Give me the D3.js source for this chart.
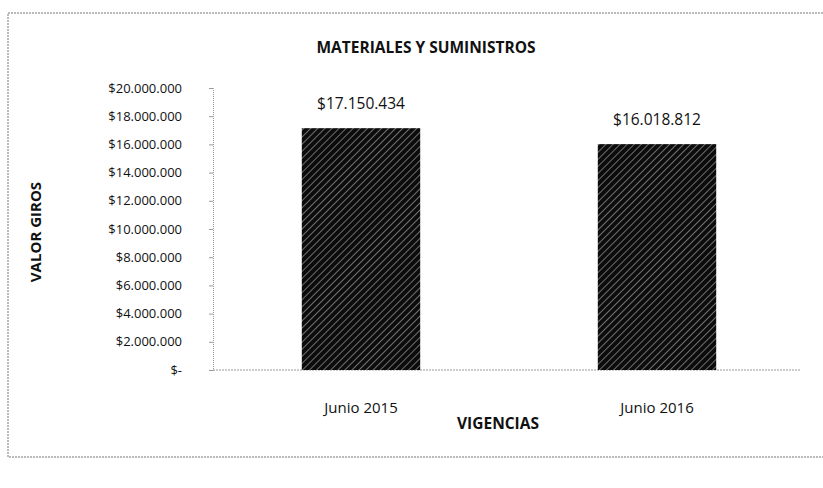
<!DOCTYPE html>
<html>
<head>
<meta charset="utf-8">
<script src="https://cdn.jsdelivr.net/npm/d3@7"></script>
<style>
  body { margin: 0; background: #fff; }
  text { font-family: "Open Sans", "Noto Sans", sans-serif; fill: #111; }
</style>
</head>
<body>
<script>
(function(){

	//chart data
	var categories = ["Junio 2015", "Junio 2016"];
	var values = [17150434, 16018812];
	var valueLabels = ["$17.150.434", "$16.018.812"];
	var tickValues = [0, 2000000, 4000000, 6000000, 8000000, 10000000, 12000000, 14000000, 16000000, 18000000, 20000000];

	var width = 823, height = 488;

	var svg = d3.select("body")
		.append("svg")
		.attr("width", width)
		.attr("height", height);

	//hatch pattern for the bars
	var defs = svg.append("defs");
	var pat = defs.append("pattern")
		.attr("id", "hatch")
		.attr("patternUnits", "userSpaceOnUse")
		.attr("width", 5)
		.attr("height", 5)
		.attr("patternTransform", "rotate(-45)");
	pat.append("rect").attr("width", 5).attr("height", 5).attr("fill", "#0c0c0c");
	pat.append("rect").attr("width", 5).attr("height", 1).attr("fill", "#707070");

	//outer dotted border
	svg.append("path")
		.attr("d", "M823,13 L8,13 L8,457 L823,457")
		.attr("fill", "none")
		.attr("stroke", "#777")
		.attr("stroke-width", 1)
		.attr("stroke-dasharray", "2,1");

	var x = d3.scaleBand()
		.domain(categories)
		.range([213, 805])
		.paddingInner(0.6)
		.paddingOuter(0.3);

	var y = d3.scaleLinear()
		.domain([0, 20000000])
		.range([370, 88]);

	//y axis
	var yAxis = d3.axisLeft(y)
		.tickValues(tickValues)
		.tickSize(4)
		.tickFormat(function(d){
			if (d === 0) return "$-";
			return "$" + d3.format(",")(d).replace(/,/g, ".");
		});

	var gy = svg.append("g")
		.attr("transform", "translate(213,0)")
		.call(yAxis);
	gy.select(".domain").attr("stroke", "#999").attr("stroke-dasharray", "1,1");
	gy.selectAll(".tick line").attr("stroke", "#999");
	gy.selectAll(".tick text")
		.attr("x", -31)
		.style("font-size", "13px")
		.attr("fill", "#222");

	//x axis line
	svg.append("line")
		.attr("x1", 213).attr("x2", 800)
		.attr("y1", y(0)).attr("y2", y(0))
		.attr("stroke", "#999")
		.attr("stroke-dasharray", "2,1");

	//bars
	svg.selectAll(".bar")
		.data(values)
		.enter()
		.append("rect")
		.attr("class", "bar")
		.attr("x", function(d, i){ return x(categories[i]); })
		.attr("width", x.bandwidth())
		.attr("y", function(d){ return y(d); })
		.attr("height", function(d){ return y(0) - y(d); })
		.attr("fill", "url(#hatch)");

	//value labels
	svg.selectAll(".vlabel")
		.data(values)
		.enter()
		.append("text")
		.attr("class", "vlabel")
		.attr("x", function(d, i){ return x(categories[i]) + x.bandwidth() / 2; })
		.attr("y", function(d){ return y(d) - 19; })
		.attr("text-anchor", "middle")
		.style("font-size", "15.5px")
		.text(function(d, i){ return valueLabels[i]; });

	//category labels
	svg.selectAll(".clabel")
		.data(categories)
		.enter()
		.append("text")
		.attr("class", "clabel")
		.attr("x", function(d){ return x(d) + x.bandwidth() / 2; })
		.attr("y", 413)
		.attr("text-anchor", "middle")
		.style("font-size", "15px")
		.text(function(d){ return d; });

	//titles
	svg.append("text")
		.attr("x", 426).attr("y", 53)
		.attr("text-anchor", "middle")
		.style("font-size", "15.5px")
		.style("font-weight", "bold")
		.text("MATERIALES Y SUMINISTROS");

	svg.append("text")
		.attr("x", 498).attr("y", 429)
		.attr("text-anchor", "middle")
		.style("font-size", "15.5px")
		.style("font-weight", "bold")
		.text("VIGENCIAS");

	svg.append("text")
		.attr("transform", "translate(41,232) rotate(-90)")
		.attr("text-anchor", "middle")
		.style("font-size", "15px")
		.style("font-weight", "bold")
		.text("VALOR GIROS");

})();
</script>
</body>
</html>
